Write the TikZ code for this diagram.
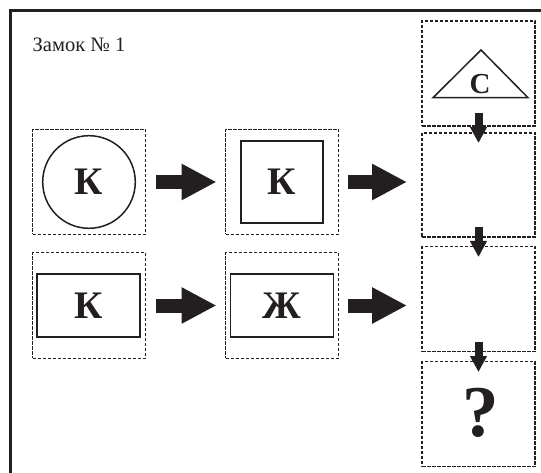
\documentclass[tikz,border=0pt]{standalone}
\usepackage{fontspec}
\setmainfont{Liberation Serif}
\usetikzlibrary{arrows.meta}
\definecolor{ink}{RGB}{35,31,32}
\begin{document}
\begin{tikzpicture}[x=1pt,y=-1pt,
  frame/.style={draw=ink,dash pattern=on 3.5pt off 1.5pt,line width=1.35pt,minimum width=113pt,minimum height=105pt,inner sep=0pt,outer sep=0pt},
  shapeline/.style={draw=ink,line width=1.5pt,inner sep=0pt,outer sep=0pt},
  glyph/.style={text=ink,inner sep=0pt,font=\fontsize{39}{41}\selectfont\bfseries},
  fatarrow/.style={draw=ink,line width=14pt,-{Triangle[length=35pt,width=34pt]}},
  downarrow/.style={draw=ink,line width=8pt,-{Triangle[length=16pt,width=16pt]}},
]
\useasboundingbox (0,0) rectangle (541,473);
% outer frame (cut off at right and bottom)
\draw[ink,line width=3pt,line join=miter] (10.7,480) -- (10.7,10.8) -- (550,10.8);
% title
\node[anchor=base west,text=ink,inner sep=0pt,font=\fontsize{20.5}{24}\selectfont] (title) at (32.5,52) {Замок № 1};
% dashed boxes
\node[frame] (L1) at (89,182) {};
\node[frame] (M1) at (282,182) {};
\node[frame,minimum height=105.6pt] (L2) at (89,305.5) {};
\node[frame,minimum height=105.6pt] (M2) at (282,305.5) {};
\node[frame] (R1) at (478.5,73.5) {};
\node[frame,minimum height=104pt] (R2) at (478.5,185) {};
\node[frame] (R3) at (478.5,299) {};
\node[frame] (R4) at (478.5,414) {};
% inner shapes
\node[shapeline,circle,minimum size=92.6pt] (c1) at (L1) {};
\node[shapeline,minimum width=82pt,minimum height=82pt] (s1) at (M1) {};
\node[shapeline,minimum width=103pt,minimum height=63pt] (r2) at (88.5,305.5) {};
\node[shapeline,minimum width=102.6pt,minimum height=63pt] (m2) at (M2) {};
\draw[shapeline,line join=miter] (481,50) -- (433,97.7) -- (528,97.7) -- cycle;
% letters
\node[glyph] (k1) at (L1) {К};
\node[glyph] (k2) at (M1) {К};
\node[glyph] (k3) at (r2) {К};
\node[glyph] (zh) at (m2) {Ж};
\node[glyph,font=\fontsize{29}{31}\selectfont\bfseries] (es) at (480,84) {С};
\node[glyph,font=\fontsize{73}{75}\selectfont\bfseries] (q) at (480.5,412.5) {?};
% horizontal arrows
\draw[fatarrow] ([xshift=10.5pt]L1.east) -- ([xshift=-9pt]M1.west);
\draw[fatarrow] ([xshift=9pt]M1.east) -- ([xshift=-15pt]M1.east -| R2.west);
\draw[fatarrow] ([xshift=10.5pt]L2.east) -- ([xshift=-9pt]M2.west);
\draw[fatarrow] ([xshift=9pt]M2.east) -- ([xshift=-15pt]M2.east -| R3.west);
% vertical arrows
\draw[downarrow] ([yshift=13pt]R1.south) -- ([yshift=-10pt]R2.north);
\draw[downarrow] ([yshift=10pt]R2.south) -- ([yshift=-10.5pt]R3.north);
\draw[downarrow] ([yshift=9.5pt]R3.south) -- ([yshift=-10.5pt]R4.north);
\end{tikzpicture}
\end{document}
